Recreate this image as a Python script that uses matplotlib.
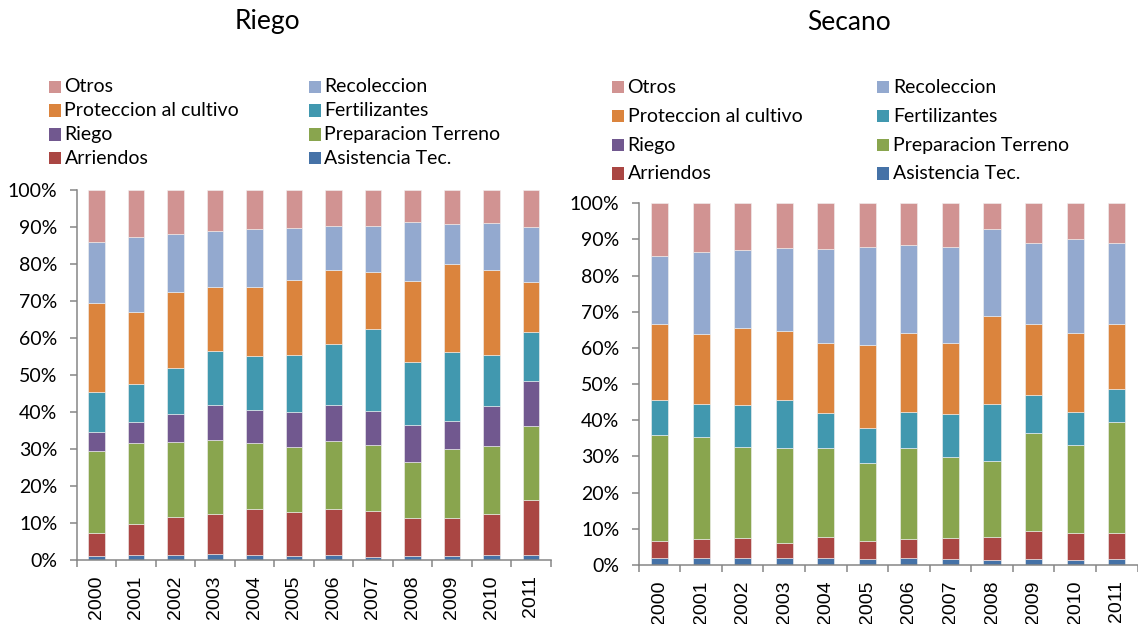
import matplotlib
matplotlib.use("Agg")
import matplotlib.pyplot as plt
from matplotlib.patches import Rectangle
import numpy as np

years = ["2000", "2001", "2002", "2003", "2004", "2005",
         "2006", "2007", "2008", "2009", "2010", "2011"]

series_names = ["Asistencia Tec.", "Arriendos", "Preparacion Terreno", "Riego",
                "Fertilizantes", "Proteccion al cultivo", "Recoleccion", "Otros"]
colors = ["#4572A7", "#AA4643", "#89A54E", "#71588F",
          "#4198AF", "#DB843D", "#93A9CF", "#D19392"]

# Riego (irrigated) – shares in %
riego_asistencia = [1.2, 1.3, 1.4, 1.6, 1.4, 1.1, 1.4, 0.7, 1.2, 1.2, 1.4, 1.3]
riego_arriendos = [6.2, 8.5, 10.2, 10.9, 12.5, 11.8, 12.3, 12.6, 10.2, 10.2, 10.9, 14.8]
riego_preparacion = [22.1, 21.7, 20.3, 19.9, 17.7, 17.6, 18.4, 17.8, 15.2, 18.6, 18.5, 20.0]
riego_riego = [5.2, 5.9, 7.6, 9.5, 8.9, 9.4, 9.9, 9.3, 10.0, 7.7, 10.7, 12.4]
riego_fertilizantes = [10.7, 10.3, 12.5, 14.6, 14.7, 15.5, 16.5, 22.0, 17.0, 18.6, 13.9, 13.0]
riego_proteccion = [24.0, 19.3, 20.3, 17.2, 18.7, 20.3, 19.9, 15.5, 21.9, 23.8, 23.1, 13.7]
riego_recoleccion = [16.6, 20.2, 15.7, 15.1, 15.6, 14.1, 11.8, 12.5, 15.8, 10.6, 12.5, 14.7]
riego_otros = [14.0, 12.8, 12.0, 11.2, 10.5, 10.2, 9.8, 9.6, 8.7, 9.3, 9.0, 10.1]

# Secano (rain-fed) – shares in %
secano_asistencia = [1.8, 1.8, 1.9, 1.9, 1.8, 1.6, 1.8, 1.6, 1.3, 1.6, 1.4, 1.6]
secano_arriendos = [4.9, 5.5, 5.6, 4.3, 5.9, 4.9, 5.3, 6.0, 6.5, 7.9, 7.4, 7.3]
secano_preparacion = [29.2, 28.0, 25.0, 26.1, 24.6, 21.6, 25.2, 22.2, 21.0, 27.0, 24.3, 30.5]
secano_riego = [0, 0, 0, 0, 0, 0, 0, 0, 0, 0, 0, 0]
secano_fertilizantes = [9.8, 9.1, 11.7, 13.2, 9.6, 9.8, 9.9, 12.0, 15.8, 10.5, 9.1, 9.2]
secano_proteccion = [21.0, 19.6, 21.3, 19.3, 19.4, 22.9, 21.9, 19.5, 24.3, 19.5, 22.0, 18.0]
secano_recoleccion = [18.6, 22.5, 21.7, 22.8, 26.0, 27.0, 24.3, 26.5, 23.9, 22.4, 25.8, 22.3]
secano_otros = [14.7, 13.5, 12.8, 12.4, 12.7, 12.2, 11.6, 12.2, 7.2, 11.1, 10.0, 11.1]

riego_data = [riego_asistencia, riego_arriendos, riego_preparacion, riego_riego,
              riego_fertilizantes, riego_proteccion, riego_recoleccion, riego_otros]
secano_data = [secano_asistencia, secano_arriendos, secano_preparacion, secano_riego,
               secano_fertilizantes, secano_proteccion, secano_recoleccion, secano_otros]

W, H = 1138, 624
fig = plt.figure(figsize=(W / 100, H / 100), dpi=100)

LABEL_FONT = "Lato"
AXIS_GRAY = "#868686"


def draw_panel(rect, data):
    ax = fig.add_axes(rect)
    x = np.arange(len(years))
    bottom = np.zeros(len(years))
    for vals, col in zip(data, colors):
        v = np.array(vals, dtype=float)
        ax.bar(x, v, bottom=bottom, width=0.41, color=col,
               edgecolor="#f2f2f2", linewidth=0.4)
        bottom += v
    ax.set_xlim(-0.5, len(years) - 0.5)
    ax.set_ylim(0, 100)
    for s in ["top", "right"]:
        ax.spines[s].set_visible(False)
    for s in ["left", "bottom"]:
        ax.spines[s].set_color(AXIS_GRAY)
        ax.spines[s].set_linewidth(1.1)
    ax.set_yticks(np.arange(0, 101, 10))
    ax.set_yticklabels([f"{v}%" for v in range(0, 101, 10)],
                       fontfamily=LABEL_FONT, fontsize=14)
    ax.tick_params(axis="y", direction="out", length=5, width=1.1,
                   color=AXIS_GRAY, pad=9)
    # category boundaries as major ticks, labels at centres
    ax.set_xticks(np.arange(-0.5, len(years), 1.0))
    ax.set_xticklabels([])
    ax.set_xticks(x, minor=True)
    ax.set_xticklabels(years, minor=True, rotation=90,
                       fontfamily="Liberation Sans", fontsize=14)
    ax.tick_params(axis="x", which="major", direction="out", length=5,
                   width=1.1, color=AXIS_GRAY)
    ax.tick_params(axis="x", which="minor", length=0, pad=11)
    return ax


def draw_legend(x_cols, y_rows, sq=12):
    # legend order: reverse of stacking, filled row by row in two columns
    order = list(range(len(series_names)))[::-1]
    for i, idx in enumerate(order):
        r, c = divmod(i, 2)
        xs = x_cols[c]
        yc = y_rows[r]
        fig.add_artist(Rectangle(((xs) / W, 1 - (yc + sq / 2) / H), sq / W, sq / H,
                                 transform=fig.transFigure, color=colors[idx], lw=0))
        fig.text((xs + sq + 4) / W, 1 - yc / H, series_names[idx],
                 fontfamily=LABEL_FONT, fontsize=14, va="center", ha="left")


draw_panel([76.7 / W, 1 - 560 / H, 474 / W, 370 / H], riego_data)
draw_panel([638.7 / W, 1 - 565 / H, 498.8 / W, 361.7 / H], secano_data)

fig.text(267 / W, 1 - 22 / H, "Riego", fontfamily=LABEL_FONT, fontsize=19,
         ha="center", va="center")
fig.text(849 / W, 1 - 22 / H, "Secano", fontfamily=LABEL_FONT, fontsize=19,
         ha="center", va="center")

draw_legend([48.5, 308.5], [87, 110.5, 134.5, 158])
draw_legend([611.5, 877], [87.3, 116.3, 145, 173.5])

fig.savefig("out.png", dpi=100)
